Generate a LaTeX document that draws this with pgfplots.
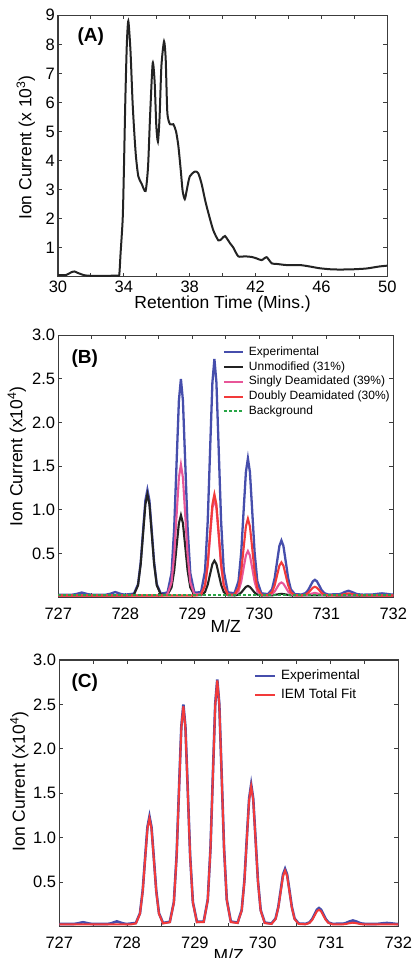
\documentclass[border=0pt]{standalone}
\usepackage{fontspec}
\setmainfont{Liberation Sans}
\usepackage{pgfplots}
\pgfplotsset{compat=1.18}
\usepackage{pgfplotstable}

\definecolor{cexp}{RGB}{70,78,172}
\definecolor{cunm}{RGB}{35,35,35}
\definecolor{csing}{RGB}{232,86,152}
\definecolor{cdoub}{RGB}{242,58,58}
\definecolor{cbg}{RGB}{40,165,70}
\definecolor{caxis}{RGB}{60,60,60}

% chromatogram (A)
\pgfplotstableread{
t v
30.0 0.05
30.5 0.06
30.8 0.15
31.0 0.18
31.2 0.13
31.6 0.05
32.0 0.03
33.0 0.03
33.6 0.04
33.72 0.06
33.80 0.8
33.93 2.0
34.00 3.6
34.09 6.1
34.18 8.0
34.27 8.8
34.40 7.8
34.53 6.0
34.64 4.9
34.74 4.1
34.88 3.45
35.08 3.2
35.32 2.95
35.47 3.8
35.59 5.5
35.75 7.35
35.87 6.7
35.97 5.2
36.07 4.65
36.17 5.5
36.28 7.25
36.44 8.1
36.54 7.5
36.64 5.65
36.80 5.25
37.00 5.25
37.17 5.0
37.31 4.5
37.45 3.7
37.57 2.95
37.70 2.67
37.81 2.95
38.00 3.45
38.32 3.62
38.52 3.56
38.72 3.2
38.93 2.65
39.13 2.2
39.43 1.6
39.74 1.25
39.94 1.3
40.14 1.4
40.45 1.15
40.65 1.0
40.95 0.7
41.36 0.7
41.76 0.68
42.06 0.63
42.37 0.57
42.67 0.67
42.98 0.46
43.28 0.44
43.89 0.4
44.70 0.4
45.30 0.35
45.90 0.29
46.70 0.25
47.70 0.25
48.70 0.28
49.50 0.35
50.00 0.38
}\chrom

% (B) experimental
\pgfplotstableread{
x y
727.00 0.030
727.21 0.030
727.27 0.038
727.31 0.046
727.35 0.055
727.39 0.046
727.43 0.038
727.49 0.030
727.71 0.030
727.77 0.039
727.81 0.050
727.85 0.060
727.89 0.050
727.93 0.039
727.99 0.030
728.13 0.042
728.19 0.150
728.23 0.402
728.27 0.810
728.30 1.110
728.33 1.230
728.36 1.110
728.39 0.810
728.43 0.402
728.47 0.150
728.53 0.042
728.63 0.055
728.69 0.277
728.73 0.796
728.77 1.636
728.80 2.253
728.83 2.500
728.86 2.253
728.89 1.636
728.93 0.796
728.97 0.277
729.03 0.055
729.13 0.057
729.19 0.300
729.23 0.867
729.27 1.785
729.30 2.460
729.33 2.730
729.36 2.460
729.39 1.785
729.43 0.867
729.47 0.300
729.53 0.057
729.63 0.046
729.69 0.186
729.73 0.514
729.77 1.044
729.80 1.434
729.83 1.590
729.86 1.434
729.89 1.044
729.93 0.514
729.97 0.186
730.03 0.046
730.13 0.036
730.19 0.092
730.23 0.222
730.27 0.433
730.30 0.588
730.33 0.650
730.36 0.588
730.39 0.433
730.43 0.222
730.47 0.092
730.53 0.036
730.63 0.032
730.69 0.047
730.73 0.083
730.77 0.141
730.80 0.183
730.83 0.200
730.86 0.183
730.89 0.141
730.93 0.083
730.97 0.047
731.03 0.032
731.19 0.035
731.23 0.044
731.27 0.059
731.33 0.075
731.39 0.059
731.43 0.044
731.47 0.035
731.55 0.030
731.69 0.032
731.77 0.040
731.83 0.045
731.89 0.040
731.97 0.032
732.00 0.030
}\expB

\pgfplotstableread{
x y
727.00 0.020
728.05 0.020
728.13 0.032
728.19 0.136
728.23 0.380
728.27 0.774
728.30 1.064
728.33 1.180
728.36 1.064
728.39 0.774
728.43 0.380
728.47 0.136
728.53 0.032
728.63 0.029
728.69 0.112
728.73 0.305
728.77 0.618
728.80 0.848
728.83 0.940
728.86 0.848
728.89 0.618
728.93 0.305
728.97 0.112
729.03 0.029
729.13 0.024
729.19 0.060
729.23 0.144
729.27 0.280
729.30 0.380
729.33 0.420
729.36 0.380
729.39 0.280
729.43 0.144
729.47 0.060
729.53 0.024
729.63 0.021
729.69 0.031
729.73 0.054
729.77 0.092
729.80 0.119
729.83 0.130
729.86 0.119
729.89 0.092
729.93 0.054
729.97 0.031
730.03 0.021
730.19 0.022
730.27 0.033
730.33 0.040
730.39 0.033
730.47 0.022
732.00 0.020
}\unmod

\pgfplotstableread{
x y
727.00 0.020
728.55 0.020
728.63 0.035
728.69 0.170
728.73 0.485
728.77 0.995
728.80 1.370
728.83 1.520
728.86 1.370
728.89 0.995
728.93 0.485
728.97 0.170
729.03 0.035
729.13 0.031
729.19 0.131
729.23 0.364
729.27 0.742
729.30 1.019
729.33 1.130
729.36 1.019
729.39 0.742
729.43 0.364
729.47 0.131
729.53 0.031
729.63 0.025
729.69 0.071
729.73 0.178
729.77 0.352
729.80 0.479
729.83 0.530
729.86 0.479
729.89 0.352
729.93 0.178
729.97 0.071
730.03 0.025
730.13 0.022
730.19 0.035
730.23 0.067
730.27 0.118
730.30 0.155
730.33 0.170
730.36 0.155
730.39 0.118
730.43 0.067
730.47 0.035
730.53 0.022
730.69 0.023
730.73 0.029
730.77 0.040
730.83 0.050
730.89 0.040
730.93 0.029
730.97 0.023
732.00 0.020
}\singly

\pgfplotstableread{
x y
727.00 0.020
729.05 0.020
729.13 0.032
729.19 0.136
729.23 0.380
729.27 0.774
729.30 1.064
729.33 1.180
729.36 1.064
729.39 0.774
729.43 0.380
729.47 0.136
729.53 0.032
729.63 0.029
729.69 0.108
729.73 0.293
729.77 0.592
729.80 0.812
729.83 0.900
729.86 0.812
729.89 0.592
729.93 0.293
729.97 0.108
730.03 0.029
730.13 0.024
730.19 0.058
730.23 0.138
730.27 0.267
730.30 0.362
730.33 0.400
730.36 0.362
730.39 0.267
730.43 0.138
730.47 0.058
730.53 0.024
730.63 0.021
730.69 0.030
730.73 0.051
730.77 0.085
730.80 0.110
730.83 0.120
730.86 0.110
730.89 0.085
730.93 0.051
730.97 0.030
731.03 0.021
731.19 0.023
731.23 0.028
731.27 0.036
731.33 0.045
731.39 0.036
731.43 0.028
731.47 0.023
732.00 0.020
}\doubly

% (C) experimental and fit
\pgfplotstableread{
x y
727.00 0.030
727.21 0.030
727.27 0.037
727.31 0.044
727.35 0.050
727.39 0.044
727.43 0.037
727.49 0.030
727.71 0.030
727.77 0.039
727.81 0.050
727.85 0.060
727.89 0.050
727.93 0.039
727.99 0.030
728.13 0.042
728.19 0.151
728.23 0.405
728.27 0.817
728.30 1.119
728.33 1.240
728.36 1.119
728.39 0.817
728.43 0.405
728.47 0.151
728.53 0.042
728.63 0.055
728.69 0.277
728.73 0.796
728.77 1.636
728.80 2.253
728.83 2.500
728.86 2.253
728.89 1.636
728.93 0.796
728.97 0.277
729.03 0.055
729.13 0.058
729.19 0.305
729.23 0.883
729.27 1.818
729.30 2.505
729.33 2.780
729.36 2.505
729.39 1.818
729.43 0.883
729.47 0.305
729.53 0.058
729.63 0.046
729.69 0.187
729.73 0.517
729.77 1.051
729.80 1.443
729.83 1.600
729.86 1.443
729.89 1.051
729.93 0.517
729.97 0.187
730.03 0.046
730.13 0.036
730.19 0.092
730.23 0.222
730.27 0.433
730.30 0.588
730.33 0.650
730.36 0.588
730.39 0.433
730.43 0.222
730.47 0.092
730.53 0.036
730.63 0.032
730.69 0.048
730.73 0.086
730.77 0.147
730.80 0.192
730.83 0.210
730.86 0.192
730.89 0.147
730.93 0.086
730.97 0.048
731.03 0.032
731.19 0.034
731.23 0.042
731.27 0.056
731.33 0.070
731.39 0.056
731.43 0.042
731.47 0.034
731.55 0.030
731.69 0.031
731.77 0.038
731.83 0.042
731.89 0.038
731.97 0.031
732.00 0.030
}\expC

\pgfplotstableread{
x y
727.00 0.025
728.05 0.025
728.13 0.037
728.19 0.145
728.23 0.395
728.27 0.802
728.30 1.101
728.33 1.220
728.36 1.101
728.39 0.802
728.43 0.395
728.47 0.145
728.53 0.037
728.63 0.050
728.69 0.271
728.73 0.786
728.77 1.621
728.80 2.235
728.83 2.480
728.86 2.235
728.89 1.621
728.93 0.786
728.97 0.271
729.03 0.050
729.13 0.052
729.19 0.300
729.23 0.876
729.27 1.809
729.30 2.496
729.33 2.770
729.36 2.496
729.39 1.809
729.43 0.876
729.47 0.300
729.53 0.052
729.63 0.041
729.69 0.181
729.73 0.507
729.77 1.036
729.80 1.425
729.83 1.580
729.86 1.425
729.89 1.036
729.93 0.507
729.97 0.181
730.03 0.041
730.13 0.031
730.19 0.086
730.23 0.213
730.27 0.418
730.30 0.570
730.33 0.630
730.36 0.570
730.39 0.418
730.43 0.213
730.47 0.086
730.53 0.031
730.63 0.027
730.69 0.042
730.73 0.076
730.77 0.132
730.80 0.174
730.83 0.190
730.86 0.174
730.89 0.132
730.93 0.076
730.97 0.042
731.03 0.027
731.19 0.027
731.23 0.031
731.27 0.038
731.33 0.045
731.39 0.038
731.43 0.031
731.47 0.027
732.00 0.025
}\fitC

\pgfplotsset{
  panel/.style={
    scale only axis,
    axis line style={line width=1.2pt, caxis},
    every tick/.style={line width=1pt, caxis},
    major tick length=4pt,
    tick align=inside,
    /pgf/number format/assume math mode=true,
    ticklabel style={font=\fontsize{16.5}{18}\selectfont},
    yticklabel style={inner sep=0pt, xshift=-3pt},
    xticklabel style={anchor=base, inner sep=0pt},
    label style={font=\fontsize{17.5}{19}\selectfont},
  },
  mzaxis/.style={
    panel,
    xmin=727, xmax=732, ymin=0, ymax=3,
    xtick={727,727.5,...,732},
    xticklabels={727,,728,,729,,730,,731,,732},
    xticklabel style={yshift=-21.8pt},
    ytick={0.5,1,1.5,2,2.5,3},
    yticklabel style={/pgf/number format/.cd, fixed, fixed zerofill, precision=1},
    xlabel={M/Z},
  },
}

\begin{document}
\begin{tikzpicture}
\useasboundingbox (0,0) rectangle (415pt,958pt);

% ---------- (A)
\begin{axis}[panel,
  at={(58pt,681.3pt)}, anchor=south west,
  width=329.3pt, height=261.4pt,
  xmin=30, xmax=50, ymin=0, ymax=9,
  xtick={30,32,...,50},
  xticklabels={30,,34,,38,,42,,46,,50},
  xticklabel style={yshift=-15.6pt},
  ytick={1,...,9},
  xlabel={Retention Time (Mins.)},
  ylabel={Ion Current (x 10\textsuperscript{3})},
  xlabel style={at={(axis description cs:0.5,0)}, anchor=base, yshift=-31.8pt},
  ylabel style={at={(axis description cs:-0.098,0.494)}, anchor=center},
]
\addplot[cunm, line width=2pt, smooth, tension=0.4] table[x=t, y=v] {\chrom};
\node[anchor=west, font=\fontsize{19}{21}\selectfont\bfseries] at (axis description cs:0.049,0.917) {(A)};
\end{axis}

% ---------- (B)
\begin{axis}[mzaxis,
  at={(58.3pt,360.7pt)}, anchor=south west,
  width=335pt, height=262pt,
  ylabel={Ion Current (x10\textsuperscript{4})},
  xlabel style={at={(axis description cs:0.5,0)}, anchor=base, yshift=-35pt},
  ylabel style={at={(axis description cs:-0.124,0.538)}, anchor=center},
  legend style={draw=none, fill=none, at={(axis description cs:0.491,0.959)}, anchor=north west,
    inner sep=0pt, font=\fontsize{12}{14}\selectfont, row sep=2.8pt,
    nodes={inner sep=0pt, text height=9pt, text depth=3pt},
    /tikz/every odd column/.append style={column sep=5pt}},
  legend image code/.code={\draw[#1, line width=2pt] (0pt,0pt) -- (19pt,0pt);},
  legend cell align=left,
]
\addplot[cexp, line width=2.3pt] table {\expB};
\addlegendentry{Experimental}
\addplot[cunm, line width=2.1pt] table {\unmod};
\addlegendentry{Unmodified (31\%)}
\addplot[csing, line width=2.1pt] table {\singly};
\addlegendentry{Singly Deamidated (39\%)}
\addplot[cdoub, line width=2.1pt] table {\doubly};
\addlegendentry{Doubly Deamidated (30\%)}
\addplot[cbg, line width=1.7pt, dash pattern=on 3pt off 2pt] coordinates {(727,0.025) (732,0.025)};
\addlegendentry{Background}
\node[anchor=west, font=\fontsize{19}{21}\selectfont\bfseries] at (axis description cs:0.029,0.912) {(B)};
\end{axis}

% ---------- (C)
\begin{axis}[mzaxis,
  at={(59.3pt,31.3pt)}, anchor=south west,
  width=339pt, height=266.7pt,
  ylabel={Ion Current (x10\textsuperscript{4})},
  xlabel style={at={(axis description cs:0.5,0)}, anchor=base, yshift=-34.5pt},
  ylabel style={at={(axis description cs:-0.118,0.544)}, anchor=center},
  legend style={draw=none, fill=none, at={(axis description cs:0.574,0.966)}, anchor=north west,
    inner sep=0pt, font=\fontsize{13.5}{15}\selectfont, row sep=5.5pt,
    nodes={inner sep=0pt, text height=10pt, text depth=3.5pt},
    /tikz/every odd column/.append style={column sep=5pt}},
  legend image code/.code={\draw[#1, line width=2pt] (0pt,0pt) -- (20pt,0pt);},
  legend cell align=left,
]
\addplot[cexp, line width=2.6pt] table {\expC};
\addlegendentry{Experimental}
\addplot[cdoub, line width=2pt] table {\fitC};
\addlegendentry{IEM Total Fit}
\node[anchor=west, font=\fontsize{19}{21}\selectfont\bfseries] at (axis description cs:0.026,0.916) {(C)};
\end{axis}
\end{tikzpicture}
\end{document}
